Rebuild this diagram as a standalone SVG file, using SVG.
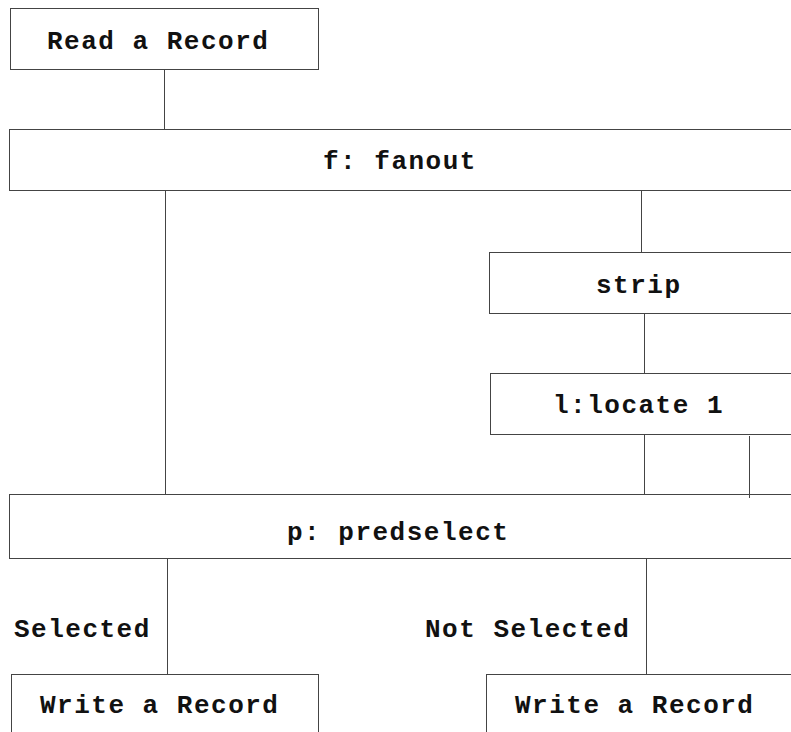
<svg xmlns="http://www.w3.org/2000/svg" width="791" height="732" viewBox="0 0 791 732">
  <style>
    .box { fill: #ffffff; stroke: #444444; stroke-width: 1; }
    .wire { stroke: #444444; stroke-width: 1; fill: none; }
    .lbl { font-family: "Liberation Mono", "DejaVu Sans Mono", monospace; font-weight: bold; font-size: 26px; letter-spacing: 1.5px; fill: #111111; }
  </style>
  <rect width="791" height="732" fill="#ffffff"/>

  <g id="read">
    <rect class="box" x="10.5" y="8.5" width="308" height="61"/>
    <text class="lbl" x="47" y="49">Read a Record</text>
  </g>

  <g id="fanout">
    <rect class="box" x="9.5" y="129.5" width="800" height="61"/>
    <text class="lbl" x="323" y="169">f: fanout</text>
  </g>

  <g id="strip">
    <rect class="box" x="489.5" y="252.5" width="320" height="61"/>
    <text class="lbl" x="596" y="293">strip</text>
  </g>

  <g id="locate">
    <rect class="box" x="490.5" y="373.5" width="320" height="61"/>
    <text class="lbl" x="553" y="413">l:locate 1</text>
  </g>

  <g id="predselect">
    <rect class="box" x="9.5" y="494.5" width="800" height="64"/>
    <text class="lbl" x="287" y="540">p: predselect</text>
  </g>

  <g id="label-selected">
    <text class="lbl" x="14" y="637">Selected</text>
  </g>

  <g id="label-not-selected">
    <text class="lbl" x="425" y="637">Not Selected</text>
  </g>

  <g id="write-selected">
    <rect class="box" x="11.5" y="674.5" width="307" height="100"/>
    <text class="lbl" x="40" y="713">Write a Record</text>
  </g>

  <g id="write-not-selected">
    <rect class="box" x="486.5" y="674.5" width="320" height="100"/>
    <text class="lbl" x="515" y="713">Write a Record</text>
  </g>

  <!-- connectors, drawn over the boxes -->
  <g id="connectors">
    <line class="wire" x1="164.5" y1="69" x2="164.5" y2="129"/>
    <line class="wire" x1="165.5" y1="190" x2="165.5" y2="494"/>
    <line class="wire" x1="641.5" y1="190" x2="641.5" y2="252"/>
    <line class="wire" x1="644.5" y1="313" x2="644.5" y2="373"/>
    <line class="wire" x1="644.5" y1="434" x2="644.5" y2="494"/>
    <line class="wire" x1="749.5" y1="436" x2="749.5" y2="498"/>
    <line class="wire" x1="167.5" y1="559" x2="167.5" y2="674"/>
    <line class="wire" x1="646.5" y1="559" x2="646.5" y2="674"/>
  </g>
</svg>
